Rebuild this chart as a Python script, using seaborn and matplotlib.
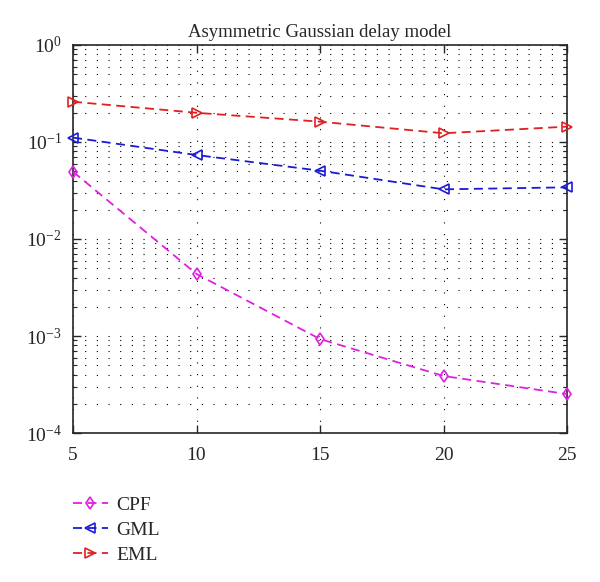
import numpy as np
import pandas as pd
import matplotlib
matplotlib.use("Agg")
import matplotlib.pyplot as plt
import seaborn as sns
from matplotlib.ticker import LogLocator, NullFormatter

# data
snr = [5, 10, 15, 20, 25]
cpf = [0.0494, 0.00436, 0.00093, 0.000387, 0.000252]
gml = [0.111, 0.0734, 0.0506, 0.0325, 0.0341]
eml = [0.26, 0.20, 0.162, 0.123, 0.144]
names = ["CPF", "GML", "EML"]
colors = ["#e020e0", "#1a1ad6", "#e02020"]
markers = ["d", "<", ">"]

df = pd.DataFrame({"x": snr * 3,
                   "y": cpf + gml + eml,
                   "method": [n for n in names for _ in snr]})

sns.set_style("ticks")
plt.rcParams["font.family"] = ["Liberation Serif", "DejaVu Serif"]
plt.rcParams["mathtext.fontset"] = "stix"

fig = plt.figure(figsize=(6, 5.82), dpi=100)
ax = fig.add_axes([0.1217, 0.256, 0.8233, 0.6667])

for name, c, m in zip(names, colors, markers):
    sns.lineplot(data=df[df.method == name], x="x", y="y", ax=ax, color=c,
                 marker=m, markersize=6.5, markerfacecolor="none",
                 markeredgecolor=c, markeredgewidth=1.2, clip_on=False,
                 linestyle=(0, (5, 3)), linewidth=1.3, label=name, zorder=3)

ax.set_yscale("log")
ax.set_xlim(5, 25)
ax.set_ylim(1e-4, 1)
ax.set_xticks(snr)
ax.set_xticklabels([str(v) for v in snr])
ax.yaxis.set_major_locator(LogLocator(base=10, numticks=10))
ax.yaxis.set_minor_locator(LogLocator(base=10, subs=np.arange(2, 10), numticks=20))
ax.yaxis.set_minor_formatter(NullFormatter())
ax.set_xlabel("")
ax.set_ylabel("")
ax.set_title("Asymmetric Gaussian delay model", fontsize=13.5, pad=6)

ax.grid(which="major", axis="both", color="black", linestyle=(0, (1, 9.5)), linewidth=0.8)
ax.grid(which="minor", axis="y", color="black", linestyle=(0, (1, 9.5)), linewidth=0.8)
ax.tick_params(which="both", direction="in", top=True, right=True, labelsize=14)
ax.tick_params(which="major", length=6, width=1)
ax.tick_params(which="minor", length=3, width=0.8)
ax.tick_params(axis="x", pad=10)
ax.tick_params(axis="y", pad=8)
for s in ax.spines.values():
    s.set_linewidth(1.2)

h, l = ax.get_legend_handles_labels()
ax.get_legend().remove()
fig.legend(h, l, loc="upper left", bbox_to_anchor=(0.092, 0.178), frameon=False,
           fontsize=14, handlelength=1.8, labelspacing=0.4, handletextpad=0.45)

fig.savefig("out.png", dpi=100)
